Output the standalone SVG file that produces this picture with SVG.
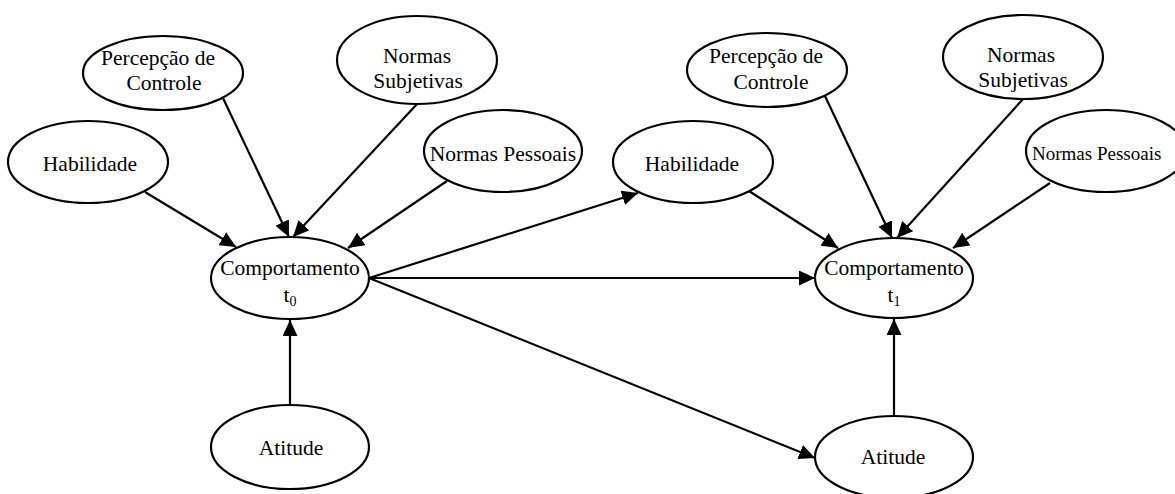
<svg xmlns="http://www.w3.org/2000/svg" width="1175" height="494" viewBox="0 0 1175 494">
<style>
.n ellipse{fill:#fff;stroke:#000;stroke-width:2.2}
text{font-family:"Liberation Serif","Times New Roman",serif;font-size:21.5px;fill:#000;text-anchor:middle}
.sub{font-size:14px}
#connectors line{stroke:#000;stroke-width:2.2;marker-end:url(#ah)}
</style>
<defs>
<marker id="ah" markerUnits="userSpaceOnUse" markerWidth="17" markerHeight="15" refX="16" refY="7.5" orient="auto">
<path d="M0,0 L16,7.5 L0,15 Z" fill="#000"/>
</marker>
</defs>
<rect width="1175" height="494" fill="#fff"/>
<g id="connectors">
<line x1="145" y1="192" x2="236" y2="247"/>
<line x1="222" y1="96" x2="289" y2="237"/>
<line x1="418" y1="103" x2="293" y2="237"/>
<line x1="447" y1="181" x2="348" y2="248"/>
<line x1="290" y1="405" x2="290" y2="320"/>
<line x1="369" y1="278" x2="638" y2="193"/>
<line x1="369" y1="278" x2="815" y2="278"/>
<line x1="369" y1="278" x2="815" y2="458"/>
<line x1="749" y1="191" x2="838" y2="248"/>
<line x1="825" y1="96" x2="892" y2="238"/>
<line x1="1023" y1="99" x2="897" y2="238"/>
<line x1="1050" y1="183" x2="953" y2="248"/>
<line x1="894" y1="416" x2="894" y2="319"/>
</g>
<g id="pc_l" class="n"><ellipse cx="163" cy="73" rx="80" ry="37"/><text x="158" y="65">Percepção de</text><text x="164" y="90">Controle</text></g>
<g id="ns_l" class="n"><ellipse cx="417" cy="60" rx="80" ry="44"/><text x="417" y="63">Normas</text><text x="418" y="88">Subjetivas</text></g>
<g id="hab_l" class="n"><ellipse cx="88" cy="162" rx="80" ry="41"/><text x="90" y="171">Habilidade</text></g>
<g id="np_l" class="n"><ellipse cx="503" cy="151" rx="79" ry="41"/><text x="503" y="161">Normas Pessoais</text></g>
<g id="comp0" class="n"><ellipse cx="290" cy="278" rx="79" ry="41"/><text x="290" y="275">Comportamento</text><text x="290" y="302">t<tspan class="sub" dy="4">0</tspan></text></g>
<g id="att_l" class="n"><ellipse cx="290" cy="447" rx="79" ry="42"/><text x="291" y="455">Atitude</text></g>
<g id="pc_r" class="n"><ellipse cx="767" cy="70" rx="80" ry="37"/><text x="766" y="63">Percepção de</text><text x="771" y="89">Controle</text></g>
<g id="ns_r" class="n"><ellipse cx="1023" cy="57" rx="80" ry="42"/><text x="1021" y="62">Normas</text><text x="1023" y="87">Subjetivas</text></g>
<g id="hab_r" class="n"><ellipse cx="693" cy="162" rx="80" ry="41"/><text x="692" y="171">Habilidade</text></g>
<g id="np_r" class="n"><ellipse cx="1106" cy="151" rx="80" ry="41"/><text x="1032" y="160" style="text-anchor:start;font-size:19px">Normas Pessoais</text></g>
<g id="comp1" class="n"><ellipse cx="894" cy="278" rx="79" ry="40"/><text x="894" y="275">Comportamento</text><text x="894" y="302">t<tspan class="sub" dy="4">1</tspan></text></g>
<g id="att_r" class="n"><ellipse cx="894" cy="457" rx="79" ry="41"/><text x="893" y="464">Atitude</text></g>
</svg>
